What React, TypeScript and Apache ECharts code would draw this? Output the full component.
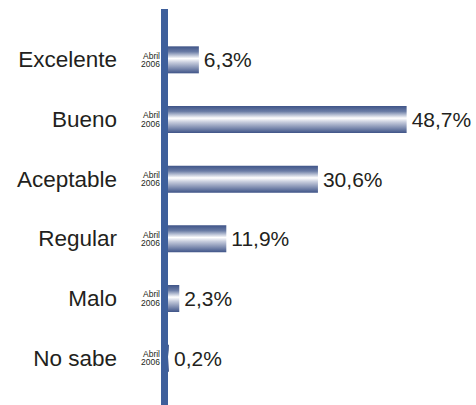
import React, { useEffect, useRef } from "react";
import * as echarts from "echarts";

const categories = ["Excelente", "Bueno", "Aceptable", "Regular", "Malo", "No sabe"];
const values = [6.3, 48.7, 30.6, 11.9, 2.3, 0.2];
const periodLabel = "Abril\n2006";

export default function App() {
  const ref = useRef<HTMLDivElement>(null);
  useEffect(() => {
    if (!ref.current) return;
    const chart = echarts.init(ref.current, undefined, { renderer: "svg" });
    const cats = [...categories].reverse();
    const vals = [...values].reverse();
    const barGradient = new echarts.graphic.LinearGradient(0, 0, 0, 1, [
      { offset: 0, color: "#3f5488" },
      { offset: 0.2, color: "#6a7ca5" },
      { offset: 0.45, color: "#ffffff" },
      { offset: 0.6, color: "#c5cbdc" },
      { offset: 1, color: "#3f5488" },
    ]);
    const font = "'Liberation Sans', Arial, sans-serif";
    chart.setOption({
      animation: false,
      grid: { left: 168, right: 14, top: 30, bottom: 17, containLabel: false },
      xAxis: {
        type: "value",
        min: 0,
        max: 60,
        show: false,
      },
      yAxis: [
        {
          type: "category",
          data: cats,
          axisLine: { show: false },
          axisTick: { show: false },
          axisLabel: {
            margin: 51,
            fontSize: 22.5,
            color: "#231f20",
            fontFamily: font,
          },
        },
        {
          type: "category",
          data: cats,
          position: "left",
          axisLine: { show: false },
          axisTick: { show: false },
          axisLabel: {
            margin: 8,
            fontSize: 8.5,
            lineHeight: 8.5,
            align: "right",
            color: "#231f20",
            fontFamily: font,
            formatter: () => periodLabel,
          },
        },
      ],
      series: [
        {
          type: "bar",
          data: vals,
          barWidth: 27,
          itemStyle: { color: barGradient },
          label: {
            show: true,
            position: "right",
            distance: 5,
            fontSize: 21,
            color: "#231f20",
            fontFamily: font,
            formatter: (p: any) => String(p.value).replace(".", ",") + "%",
          },
        },
      ],
      graphic: [
        {
          type: "rect",
          left: 161,
          top: 9,
          shape: { width: 7, height: 396 },
          style: { fill: "#3e5f9b" },
          z: 10,
        },
      ],
    });
    return () => chart.dispose();
  }, []);
  return <div ref={ref} style={{ width: 476, height: 405, position: "absolute", left: 0, top: 0 }} />;
}
